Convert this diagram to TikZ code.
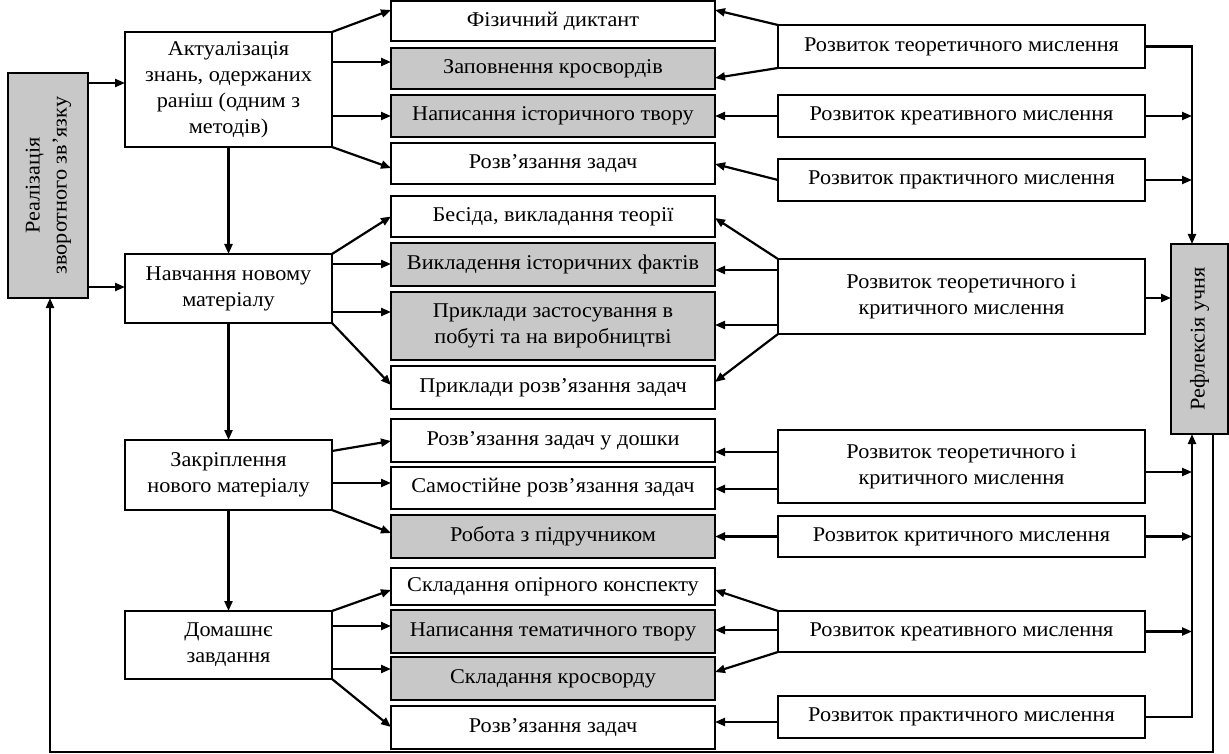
\documentclass[tikz,border=0pt]{standalone}
\usepackage{fontspec}
\setmainfont[FakeStretch=1.06]{Liberation Serif}
\usetikzlibrary{arrows.meta,calc}
\definecolor{boxgray}{RGB}{200,200,200}
\begin{document}
\begin{tikzpicture}[x=1pt,y=-1pt,
  base/.style={draw=black, line width=2.8pt, rectangle, inner sep=0pt, outer sep=0pt, align=center,
    font=\fontsize{21}{26}\selectfont},
  wbox/.style={base, fill=white},
  gbox/.style={base, fill=boxgray},
  mid/.style={minimum width=324},
  rgt/.style={minimum width=367},
  stg/.style={minimum width=207},
  arr/.style={line width=2.2pt, -{Triangle[length=10pt,width=8pt]}},
  ln/.style={line width=2.2pt}]
\useasboundingbox (0,0) rectangle (1229,754);
\fill[white] (0,0) rectangle (1229,754);

% feedback and reflection boxes
\node[gbox, minimum width=80, minimum height=225] (fb) at (48,185.5)
  {\rotatebox{90}{\begin{tabular}{@{}c@{}}Реалізація\\[1pt]зворотного зв’язку\end{tabular}}};
\node[gbox, minimum width=57, minimum height=190] (refl) at (1199.5,339)
  {\rotatebox{90}{Рефлексія учня}};

% stage boxes
\node[wbox, stg, minimum height=115] (s1) at (228.5,89.5) {Актуалізація\\знань, одержаних\\раніш (одним з\\методів)};
\node[wbox, stg, minimum height=69] (s2) at (228.5,288.5) {Навчання новому\\матеріалу};
\node[wbox, stg, minimum height=70] (s3) at (228.5,475) {Закріплення\\нового матеріалу};
\node[wbox, stg, minimum height=68] (s4) at (228.5,645) {Домашнє\\завдання};

% middle boxes
\node[wbox, mid, minimum height=40] (m1) at (553,21) {Фізичний диктант};
\node[gbox, mid, minimum height=41] (m2) at (553,68.5) {Заповнення кросвордів};
\node[gbox, mid, minimum height=42] (m3) at (553,116) {Написання історичного твору};
\node[wbox, mid, minimum height=41] (m4) at (553,163.5) {Розв’язання задач};
\node[wbox, mid, minimum height=41] (m5) at (553,216.5) {Бесіда, викладання теорії};
\node[gbox, mid, minimum height=43] (m6) at (553,264.5) {Викладення історичних фактів};
\node[gbox, mid, minimum height=68] (m7) at (553,326) {Приклади застосування в\\побуті та на виробництві};
\node[wbox, mid, minimum height=43] (m8) at (553,387.5) {Приклади розв’язання задач};
\node[wbox, mid, minimum height=43] (m9) at (553,440.5) {Розв’язання задач у дошки};
\node[wbox, mid, minimum height=42] (m10) at (553,488) {Самостійне розв’язання задач};
\node[gbox, mid, minimum height=43] (m11) at (553,536.5) {Робота з підручником};
\node[wbox, mid, minimum height=37] (m12) at (553,586.5) {Складання опірного конспекту};
\node[gbox, mid, minimum height=43] (m13) at (553,631.5) {Написання тематичного твору};
\node[gbox, mid, minimum height=43] (m14) at (553,678.5) {Складання кросворду};
\node[wbox, mid, minimum height=43] (m15) at (553,727.5) {Розв’язання задач};

% right boxes
\node[wbox, rgt, minimum height=43] (r1) at (961.5,46.5) {Розвиток теоретичного мислення};
\node[wbox, rgt, minimum height=42] (r2) at (961.5,116) {Розвиток креативного мислення};
\node[wbox, rgt, minimum height=42] (r3) at (961.5,180) {Розвиток практичного мислення};
\node[wbox, rgt, minimum height=75] (r4) at (961.5,296.5) {Розвиток теоретичного і\\критичного мислення};
\node[wbox, rgt, minimum height=73] (r5) at (961.5,466.5) {Розвиток теоретичного і\\критичного мислення};
\node[wbox, rgt, minimum height=41] (r6) at (961.5,536.5) {Розвиток критичного мислення};
\node[wbox, rgt, minimum height=41] (r7) at (961.5,631.5) {Розвиток креативного мислення};
\node[wbox, rgt, minimum height=42] (r8) at (961.5,717) {Розвиток практичного мислення};

\coordinate (bus) at (1192,0);
\coordinate (fbx) at (1213,0);
\coordinate (br) at (1213,752);
\coordinate (bl) at (50,752);

% feedback to stages
\draw[arr] (fb.east |- 0,83) -- (s1.west |- 0,83);
\draw[arr] (fb.east |- 0,287) -- (s2.west |- 0,287);
% stage chain
\draw[arr] (s1.south) -- (s2.north);
\draw[arr] (s2.south) -- (s3.north);
\draw[arr] (s3.south) -- (s4.north);

% stage 1
\draw[arr] (s1.north east) -- (m1.west |- 0,10);
\draw[arr] (s1.east |- 0,62) -- (m2.west |- 0,62);
\draw[arr] (s1.east |- m3.west) -- (m3.west);
\draw[arr] (s1.south east) -- (m4.west |- 0,168);
% stage 2
\draw[arr] (s2.north east) -- (m5.west);
\draw[arr] (s2.east |- 0,264) -- (m6.west |- 0,264);
\draw[arr] (s2.east |- 0,312) -- (m7.west |- 0,312);
\draw[arr] (s2.south east) -- (m8.west |- 0,385);
% stage 3
\draw[arr] (s3.east |- 0,451) -- (m9.west |- 0,441);
\draw[arr] (s3.east |- 0,483) -- (m10.west |- 0,483);
\draw[arr] (s3.south east) -- (m11.west |- 0,533);
% stage 4
\draw[arr] (s4.north east) -- (m12.west |- 0,590);
\draw[arr] (s4.east |- 0,626) -- (m13.west |- 0,626);
\draw[arr] (s4.east |- 0,669) -- (m14.west |- 0,669);
\draw[arr] (s4.south east) -- (m15.west |- 0,727);

% right to middle
\draw[arr] (r1.north west) -- (m1.east |- 0,10);
\draw[arr] (r1.south west) -- (m2.east |- 0,78);
\draw[arr] (r2.west) -- (m3.east);
\draw[arr] (r3.west) -- (m4.east |- 0,164);
\draw[arr] (r4.north west) -- (m5.east |- 0,218);
\draw[arr] (r4.west |- 0,270) -- (m6.east |- 0,270);
\draw[arr] (r4.west |- 0,325) -- (m7.east |- 0,325);
\draw[arr] (r4.south west) -- (m8.east |- 0,382);
\draw[arr] (r5.west |- 0,452) -- (m9.east |- 0,452);
\draw[arr] (r5.west |- 0,489) -- (m10.east |- 0,489);
\draw[arr] (r6.west) -- (m11.east);
\draw[arr] (r7.north west) -- (m12.east |- 0,590);
\draw[arr] (r7.west |- 0,630) -- (m13.east |- 0,630);
\draw[arr] (r7.south west) -- (m14.east |- 0,672);
\draw[arr] (r8.west |- 0,722) -- (m15.east |- 0,722);

% right to reflection
\draw[arr] (r1.east) -| (refl.north -| bus);
\draw[arr] (r2.east) -- (r2.east -| bus);
\draw[arr] (r3.east) -- (r3.east -| bus);
\draw[arr] (r4.east |- 0,298) -- (refl.west |- 0,298);
\draw[arr] (r5.east |- 0,472) -- (bus |- 0,472);
\draw[arr] (r6.east) -- (r6.east -| bus);
\draw[arr] (r7.east) -- (r7.east -| bus);
\draw[arr] (r8.east) -| (refl.south -| bus);

% feedback loop
\draw[arr] (refl.south -| fbx) -- (br) -- (bl) -- (fb.south -| bl);
\end{tikzpicture}
\end{document}
